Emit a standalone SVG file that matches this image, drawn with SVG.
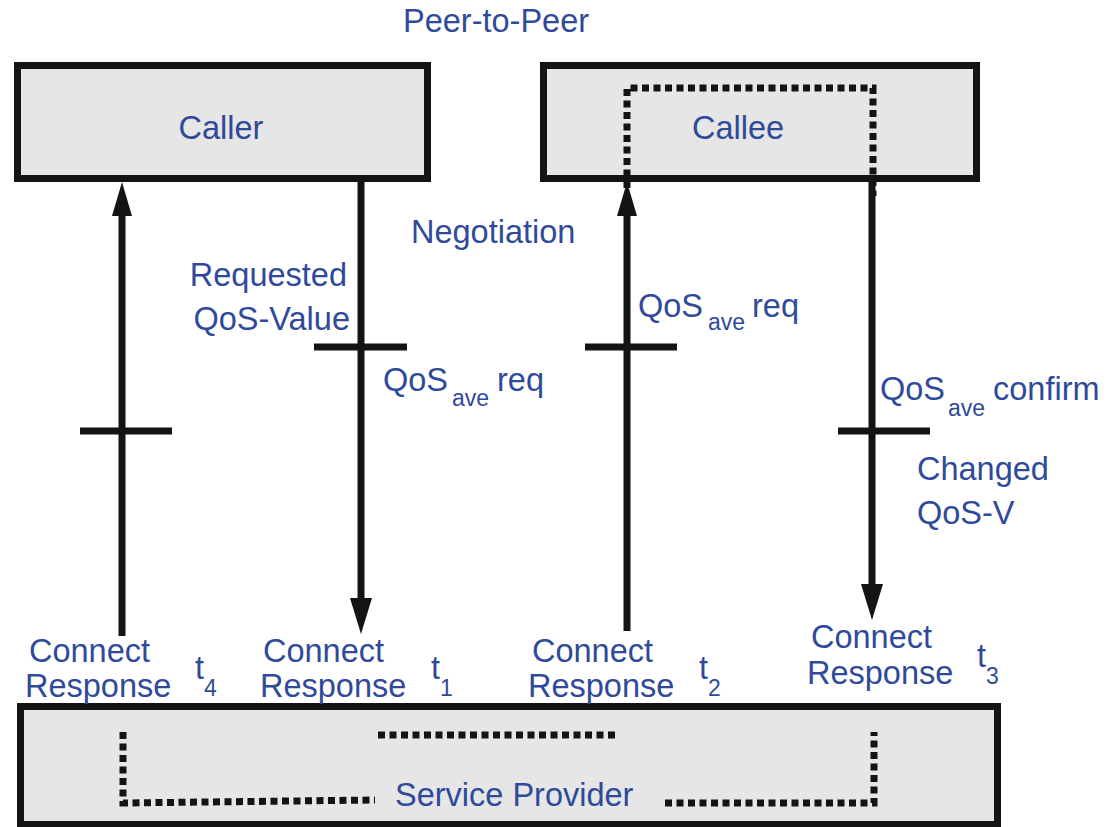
<svg xmlns="http://www.w3.org/2000/svg" width="1113" height="827" viewBox="0 0 1113 827">
<defs>
<style>
.box{fill:#e6e6e6;stroke:#141414;stroke-width:7}
.ln{stroke:#141414;stroke-width:7;fill:none}
.dot{stroke:#141414;stroke-width:7;fill:none;stroke-dasharray:7 4.5}
.t{font-family:"Liberation Sans",Arial,sans-serif;font-size:32.5px;fill:#2f4a9a}
.s{font-size:23px}
</style>
</defs>
<rect width="1113" height="827" fill="#ffffff"/>
<text class="t" x="403" y="32">Peer-to-Peer</text>
<g id="caller">
<rect class="box" x="17.5" y="65.5" width="410" height="113"/>
<text class="t" x="221" y="139" text-anchor="middle">Caller</text>
</g>
<g id="callee">
<rect class="box" x="543.5" y="65.5" width="433" height="113"/>
<text class="t" x="738" y="139" text-anchor="middle">Callee</text>
</g>
<g id="service-provider">
<rect class="box" x="20.5" y="706.5" width="977" height="118"/>
<text class="t" x="395" y="806">Service Provider</text>
</g>
<g id="connectors">
<line class="ln" x1="122" y1="636" x2="122" y2="214"/>
<path d="M112,216 L122,182 L132,216 Z" fill="#141414"/>
<line class="ln" x1="80" y1="431" x2="172" y2="431"/>
<line class="ln" x1="361" y1="182" x2="361" y2="600"/>
<path d="M350,598 L361,634 L372,598 Z" fill="#141414"/>
<line class="ln" x1="314" y1="347" x2="407" y2="347"/>
<line class="ln" x1="627" y1="631" x2="627" y2="214"/>
<path d="M617,216 L627,182 L637,216 Z" fill="#141414"/>
<line class="ln" x1="585" y1="347" x2="677" y2="347"/>
<line class="ln" x1="872" y1="182" x2="872" y2="586"/>
<path d="M861,584 L872,620 L883,584 Z" fill="#141414"/>
<line class="ln" x1="838" y1="431" x2="930" y2="431"/>
<path class="dot" d="M627,188 L627,88 L873,88 L873,196"/>
<path class="dot" d="M123,732 L123,803 L375,800"/>
<path class="dot" d="M378,735 L616,735"/>
<path class="dot" d="M665,803 L874,803 L874,732"/>
</g>
<g id="labels">
<text class="t" x="411" y="243">Negotiation</text>
<text class="t" x="347" y="286" text-anchor="end">Requested</text>
<text class="t" x="350" y="330" text-anchor="end">QoS-Value</text>
<text class="t" x="383" y="391">QoS<tspan class="s" x="452" y="406">ave</tspan><tspan x="497" y="391">req</tspan></text>
<text class="t" x="638" y="317">QoS<tspan class="s" x="708" y="330">ave</tspan><tspan x="752" y="317">req</tspan></text>
<text class="t" x="880" y="400">QoS<tspan class="s" x="948" y="416">ave</tspan><tspan x="993" y="400">confirm</tspan></text>
<text class="t" x="917" y="480">Changed</text>
<text class="t" x="917" y="524">QoS-V</text>
<text class="t" x="29" y="662">Connect</text>
<text class="t" x="25" y="697">Response</text>
<text class="t" x="195" y="679">t<tspan class="s" x="204" y="696">4</tspan></text>
<text class="t" x="263" y="662">Connect</text>
<text class="t" x="260" y="697">Response</text>
<text class="t" x="431" y="679">t<tspan class="s" x="440" y="696">1</tspan></text>
<text class="t" x="532" y="662">Connect</text>
<text class="t" x="528" y="697">Response</text>
<text class="t" x="699" y="679">t<tspan class="s" x="708" y="696">2</tspan></text>
<text class="t" x="811" y="648">Connect</text>
<text class="t" x="807" y="684">Response</text>
<text class="t" x="977" y="667">t<tspan class="s" x="986" y="684">3</tspan></text>
</g>
</svg>
